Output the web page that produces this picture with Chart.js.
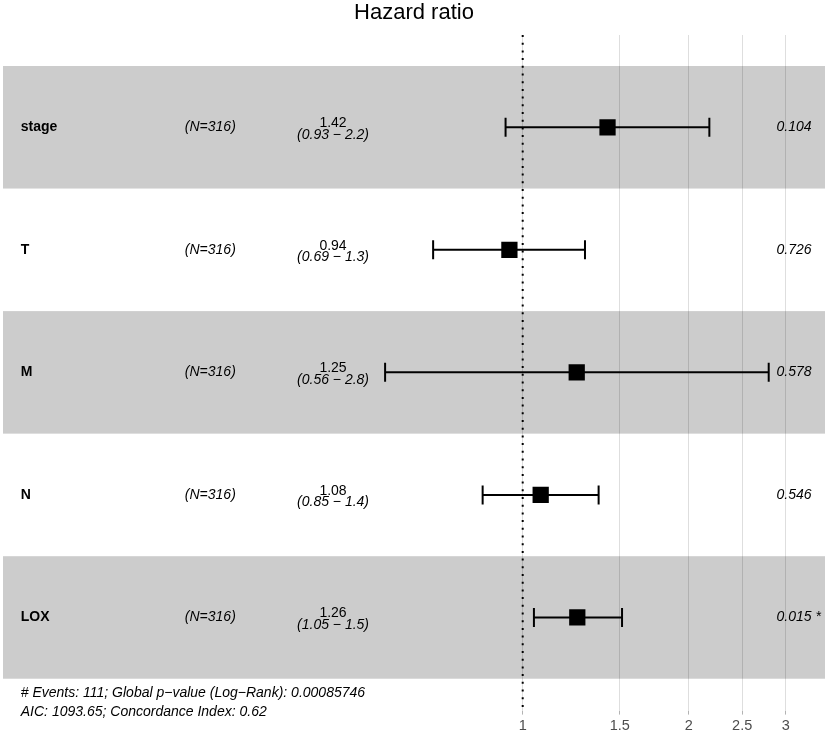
<!DOCTYPE html>
<html>
<head>
<meta charset="utf-8">
<script src="https://cdn.jsdelivr.net/npm/chart.js@4.4.0/dist/chart.umd.min.js"></script>
<style>
  html, body { margin: 0; padding: 0; background: #ffffff; }
  #wrap { width: 829px; height: 734px; }
</style>
</head>
<body>
<div id="wrap"><canvas id="c" width="829" height="734"></canvas></div>
<script>
// ---- data ----
const categories = ['stage', 'T', 'M', 'N', 'LOX'];
const nLabels = ['(N=316)', '(N=316)', '(N=316)', '(N=316)', '(N=316)'];
const hazard = [1.425, 0.946, 1.253, 1.078, 1.256];
const lower = [0.931, 0.688, 0.563, 0.846, 1.048];
const upper = [2.18, 1.297, 2.793, 1.373, 1.514];
const hrText = ['1.42', '0.94', '1.25', '1.08', '1.26'];
const ciText = ['(0.93 \u2212 2.2)', '(0.69 \u2212 1.3)', '(0.56 \u2212 2.8)', '(0.85 \u2212 1.4)', '(1.05 \u2212 1.5)'];
const pText = ['0.104', '0.726', '0.578', '0.546', '0.015 *'];
const xTicks = [1, 1.5, 2, 2.5, 3];
const footnote = [
  '# Events: 111; Global p\u2212value (Log\u2212Rank): 0.00085746',
  'AIC: 1093.65; Concordance Index: 0.62'
];
const titleText = 'Hazard ratio';

// ---- layout (axis units) ----
const X_MIN = 0.1142, X_MAX = 3.533;
const Y_MIN = 0.247, Y_MAX = 5.76;
const X_VAR = 0.123, X_N = 0.244, X_EST = 0.453, X_P = 2.886;
const Y_FOOT = [5.614, 5.77];
const FONT = '"Liberation Sans", Arial, Helvetica, sans-serif';

const rowY = categories.map((_, i) => i + 1);

const annot = {
  id: 'annot',
  beforeDatasetsDraw(chart) {
    const { ctx } = chart;
    const xs = chart.scales.x, ys = chart.scales.y;
    ctx.save();
    ctx.fillStyle = 'rgba(0,0,0,0.2)';
    rowY.forEach((y, i) => {
      if (i % 2 === 0) {
        const top = ys.getPixelForValue(y - 0.5);
        const bot = ys.getPixelForValue(y + 0.5);
        const l = xs.getPixelForValue(X_MIN);
        const r = xs.getPixelForValue(X_MAX);
        ctx.fillRect(l, top, r - l, bot - top);
      }
    });
    ctx.restore();
  },
  afterDatasetsDraw(chart) {
    const { ctx } = chart;
    const xs = chart.scales.x, ys = chart.scales.y;
    ctx.save();
    ctx.fillStyle = '#000';
    rowY.forEach((y, i) => {
      const py = ys.getPixelForValue(y);
      ctx.font = 'bold 14px ' + FONT;
      ctx.textAlign = 'left';
      ctx.textBaseline = 'middle';
      ctx.fillText(categories[i], xs.getPixelForValue(X_VAR), py);
      ctx.font = 'italic 14px ' + FONT;
      ctx.fillText(nLabels[i], xs.getPixelForValue(X_N), py);
      ctx.fillText(pText[i], xs.getPixelForValue(X_P), py);
      ctx.textAlign = 'center';
      ctx.textBaseline = 'alphabetic';
      ctx.font = '14px ' + FONT;
      ctx.fillText(hrText[i], xs.getPixelForValue(X_EST), py);
      ctx.font = 'italic 14px ' + FONT;
      ctx.fillText(ciText[i], xs.getPixelForValue(X_EST), py + 11.5);
    });
    ctx.font = 'italic 14px ' + FONT;
    ctx.textAlign = 'left';
    ctx.textBaseline = 'middle';
    footnote.forEach((t, k) => {
      ctx.fillText(t, xs.getPixelForValue(X_VAR), ys.getPixelForValue(Y_FOOT[k]));
    });
    ctx.restore();
  }
};

const datasets = [];
// dotted reference line at HR = 1
datasets.push({
  data: [{ x: 1, y: Y_MIN }, { x: 1, y: Y_MAX }],
  showLine: true, borderColor: '#000', borderWidth: 2, borderDash: [2, 5.7],
  pointRadius: 0, borderCapStyle: 'butt'
});
// squares
datasets.push({
  data: hazard.map((v, i) => ({ x: v, y: rowY[i] })),
  pointStyle: 'rect', pointRadius: 11.5, pointBackgroundColor: '#000',
  pointBorderWidth: 0, showLine: false
});
// caps
datasets.push({
  data: lower.map((v, i) => ({ x: v, y: rowY[i] })).concat(upper.map((v, i) => ({ x: v, y: rowY[i] }))),
  pointStyle: 'line', rotation: 90, pointRadius: 9.5,
  pointBorderColor: '#000', pointBorderWidth: 2, showLine: false
});
// whiskers
rowY.forEach((y, i) => {
  datasets.push({
    data: [{ x: lower[i], y: y }, { x: upper[i], y: y }],
    showLine: true, borderColor: '#000', borderWidth: 2, pointRadius: 0
  });
});

new Chart(document.getElementById('c'), {
  type: 'scatter',
  data: { datasets },
  options: {
    responsive: false,
    devicePixelRatio: 1,
    animation: false,
    events: [],
    layout: { autoPadding: false, padding: { left: 3, right: 4, top: 0, bottom: -4 } },
    plugins: {
      legend: { display: false },
      tooltip: { enabled: false },
      title: {
        display: true, text: titleText, color: '#000',
        font: { size: 22, family: FONT, weight: 'normal' },
        padding: { top: 0, bottom: 8.6 }
      }
    },
    scales: {
      x: {
        type: 'logarithmic', min: X_MIN, max: X_MAX,
        afterBuildTicks(scale) { scale.ticks = xTicks.map(v => ({ value: v })); },
        ticks: {
          color: '#4d4d4d', font: { size: 14.5, family: FONT }, padding: 3,
          autoSkip: false, maxRotation: 0,
          callback: (v) => String(v)
        },
        grid: { color: '#dedede', lineWidth: 1, tickLength: 4, tickColor: '#b3b3b3', drawOnChartArea: true },
        border: { display: false }
      },
      y: {
        type: 'linear', reverse: true, min: Y_MIN, max: Y_MAX, display: false
      }
    }
  },
  plugins: [annot]
});
</script>
</body>
</html>
